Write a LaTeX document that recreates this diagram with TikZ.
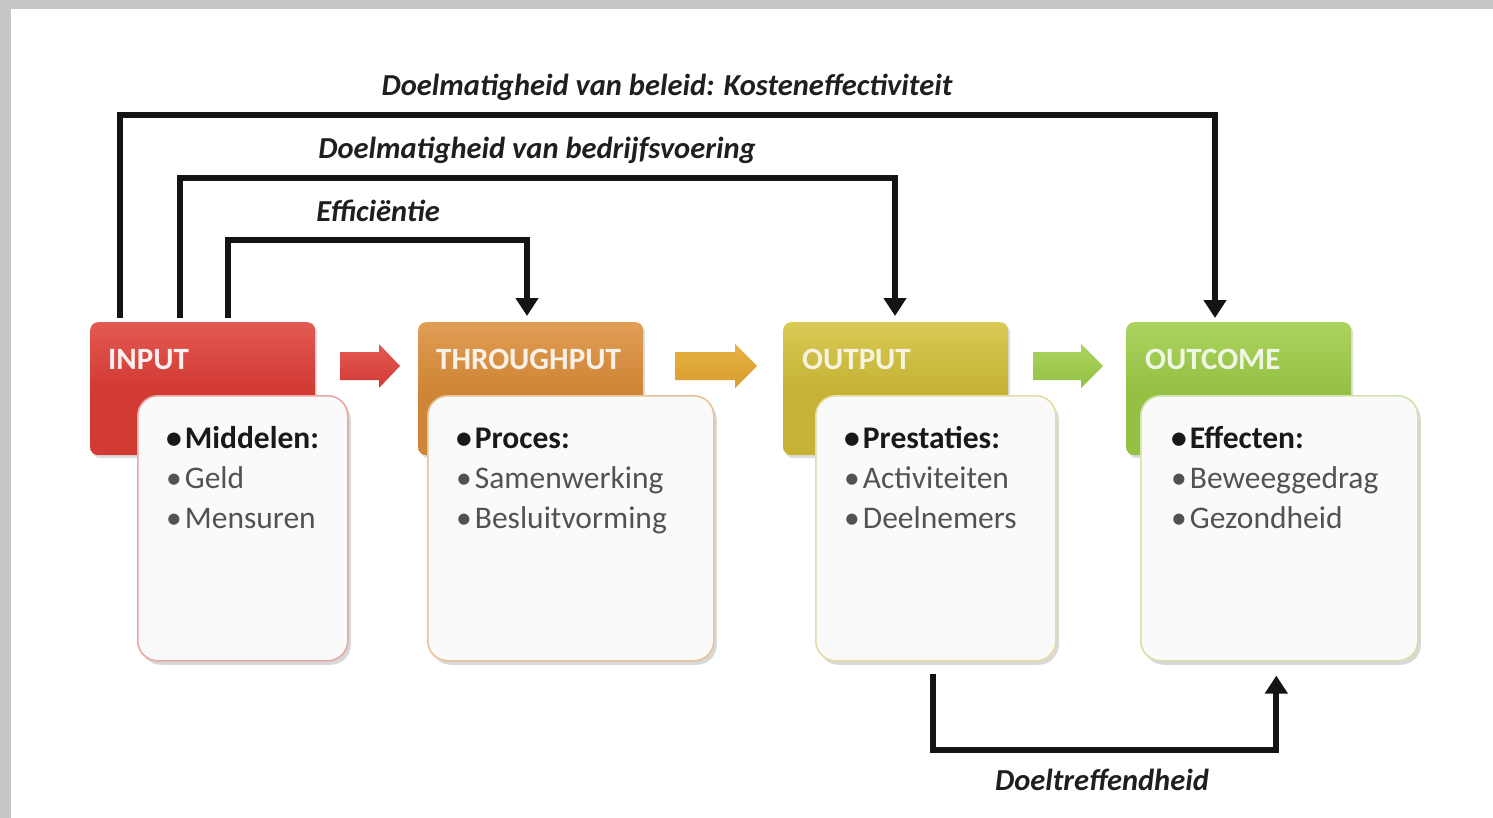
\documentclass[tikz,border=0pt]{standalone}
\usepackage{fontspec}
\setmainfont{Carlito}
\usetikzlibrary{arrows.meta,shadows,calc}
\definecolor{inred}{HTML}{D23A34}
\definecolor{inredL}{HTML}{E25A52}
\definecolor{thor}{HTML}{CF8536}
\definecolor{thorL}{HTML}{E09E55}
\definecolor{outy}{HTML}{C6B336}
\definecolor{outyL}{HTML}{D8CA55}
\definecolor{ocg}{HTML}{94C144}
\definecolor{ocgL}{HTML}{ABD35F}
\definecolor{boxbg}{HTML}{FAFAFA}
\definecolor{frame}{HTML}{C6C6C6}
\begin{document}
\begin{tikzpicture}[x=1pt,y=-1pt,
  conn/.style={line width=6pt, draw=black!92, line join=miter},
  tipend/.style={-{Triangle[width=22pt,length=18pt]}},
  headbox/.style={rounded corners=8pt, minimum width=225pt, minimum height=133pt, inner sep=0pt, anchor=north west,
    drop shadow={shadow xshift=2pt, shadow yshift=-3pt, opacity=0.25}},
  bodybox/.style={rounded corners=20pt, fill=boxbg, line width=1.6pt, anchor=north west, inner sep=0pt,
    drop shadow={shadow xshift=3pt, shadow yshift=-4pt, opacity=0.3}},
  headtxt/.style={font=\fontsize{31}{33}\selectfont\bfseries, anchor=base west, inner sep=0pt},
  listtxt/.style={font=\fontsize{31.5}{40}\selectfont, anchor=base west, inner sep=0pt, align=left, text=black!68},
  lbl/.style={font=\fontsize{30.5}{33}\selectfont\bfseries\itshape, text=black!88, anchor=base, inner sep=0pt}
]
\useasboundingbox (0,0) rectangle (1493,818);
\fill[frame] (0,0) rectangle (1493,818);
\fill[white] (11,9) rectangle (1493,818);

% header boxes
\node[headbox, top color=inredL, bottom color=inred, middle color=inred] (hin) at (90,322) {};
\node[headbox, top color=thorL, bottom color=thor, middle color=thor] (hth) at (418,322) {};
\node[headbox, top color=outyL, bottom color=outy, middle color=outy] (hout) at (783,322) {};
\node[headbox, top color=ocgL, bottom color=ocg, middle color=ocg] (hoc) at (1126,322) {};

% body boxes
\node[bodybox, draw=inred!45, minimum width=210pt, minimum height=265pt] (bin) at (137,395) {};
\node[bodybox, draw=thor!50, minimum width=286pt, minimum height=265pt] (bth) at (427,395) {};
\node[bodybox, draw=outy!45, minimum width=240pt, minimum height=265pt] (bout) at (815,395) {};
\node[bodybox, draw=ocg!45, minimum width=277pt, minimum height=265pt] (boc) at (1140,395) {};

% header texts
\node[headtxt, text=white!92!inred] (tin) at (108,369) {INPUT};
\node[headtxt, text=white!88!thor] (tth) at (436,369) {THROUGHPUT};
\node[headtxt, text=white!85!outy] (tout) at (802,369) {OUTPUT};
\node[headtxt, text=white!85!ocg] (toc) at (1145,369) {OUTCOME};

% list texts (anchor = baseline of last line)
\node[listtxt] (lin) at (166,528) {\textcolor{black!90}{\bfseries •\hspace{3pt}Middelen:}\\•\hspace{3pt}Geld\\•\hspace{3pt}Mensuren};
\node[listtxt] (lth) at (456,528) {\textcolor{black!90}{\bfseries •\hspace{3pt}Proces:}\\•\hspace{3pt}Samenwerking\\•\hspace{3pt}Besluitvorming};
\node[listtxt] (lout) at (844,528) {\textcolor{black!90}{\bfseries •\hspace{3pt}Prestaties:}\\•\hspace{3pt}Activiteiten\\•\hspace{3pt}Deelnemers};
\node[listtxt] (loc) at (1171,528) {\textcolor{black!90}{\bfseries •\hspace{3pt}Effecten:}\\•\hspace{3pt}Beweeggedrag\\•\hspace{3pt}Gezondheid};

% block arrows between stages
\shade[top color=inredL, bottom color=inred] (340,352) -- (379,352) -- (379,344) -- (400,366) -- (379,388) -- (379,380) -- (340,380) -- cycle;
\shade[top color=thorL!80!yellow, bottom color=thor!80!yellow] (675,352) -- (735,352) -- (735,344) -- (757,366) -- (735,388) -- (735,380) -- (675,380) -- cycle;
\shade[top color=ocgL, bottom color=ocg] (1033,352) -- (1081,352) -- (1081,344) -- (1103,366) -- (1081,388) -- (1081,380) -- (1033,380) -- cycle;

% top connectors
\draw[conn, tipend] ($(hin.north west)+(30,-4)$) |- ($(hoc.north west)+(89,-207)$) -- ($(hoc.north west)+(89,-4)$);
\draw[conn, tipend] ($(hin.north west)+(90,-4)$) |- ($(hout.north west)+(112,-144)$) -- ($(hout.north west)+(112,-6)$);
\draw[conn, tipend] ($(hin.north west)+(138,-4)$) |- ($(hth.north west)+(109,-82)$) -- ($(hth.north west)+(109,-6)$);

% bottom connector
\draw[conn, tipend] ($(bout.south)+(-3,12)$) |- ($(boc.south)+(-3,88)$) -- ($(boc.south)+(-3,14)$);

% labels
\node[lbl] (l1) at (667,96) {Doelmatigheid van beleid: Kosteneffectiviteit};
\node[lbl] (l2) at (537,159) {Doelmatigheid van bedrijfsvoering};
\node[lbl] (l3) at (378,222) {Efficiëntie};
\node[lbl] (l4) at (1102,790) {Doeltreffendheid};
\end{tikzpicture}
\end{document}
